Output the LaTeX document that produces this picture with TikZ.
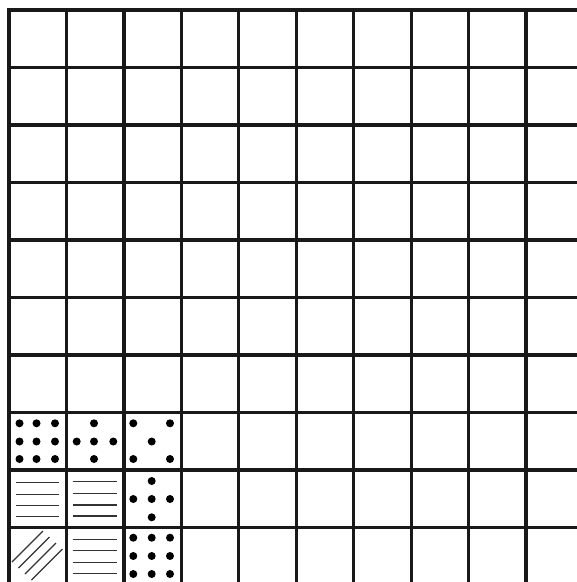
\documentclass[tikz,border=0pt]{standalone}
\begin{document}
\begin{tikzpicture}[x=1pt,y=-1pt,
  gridline/.style={line width=3.2pt,black!90},
  hatch/.style={line width=1.1pt,black!80},
  pip/.style={fill=black}]
\useasboundingbox (0,0) rectangle (577,582);
\fill[white] (0,0) rectangle (577,582);
% grid
\foreach \i in {0,...,9}{
  \draw[gridline] ({9+57.45*\i},8.4) -- ({9+57.45*\i},582);
  \draw[gridline] (7.4,{10+57.5*\i}) -- (577,{10+57.5*\i});
}
% row 7, col 0: nine dots
\foreach \x in {19.5,36.5,55}{\foreach \y in {423.3,441.5,459}{\fill[pip] (\x,\y) circle (4);}}
% row 7, col 1: plus
\foreach \p in {(94,423.3),(76.7,441.5),(94,441.5),(113.3,441.5),(94,459)}{\fill[pip] \p circle (4);}
% row 7, col 2: five
\foreach \p in {(133.3,423.3),(170,423.3),(151.7,441.5),(133.3,459),(170,459)}{\fill[pip] \p circle (4);}
% row 8, col 0: lines
\foreach \y in {482.7,494.3,505.7,516.7}{\draw[hatch] (16,\y) -- (59.3,\y);}
% row 8, col 1: lines
\foreach \y in {481.7,493.3,505,516}{\draw[hatch] (72.7,\y) -- (117.3,\y);}
% row 8, col 2: plus
\foreach \p in {(151.7,481),(133.3,499),(151.7,499),(170,499),(151.7,517.3)}{\fill[pip] \p circle (4);}
% row 9, col 0: diagonal hatch
\foreach \d in {0,1,2,3}{\draw[hatch] ({12+6.5*\d},{562+6*\d}) -- ({43+6.5*\d},{531+6*\d});}
% row 9, col 1: lines
\foreach \y in {539.3,550.7,562.3,573.3}{\draw[hatch] (72.7,\y) -- (117.3,\y);}
% row 9, col 2: nine dots
\foreach \x in {133.3,151.7,170}{\foreach \y in {537.7,556,574}{\fill[pip] (\x,\y) circle (4);}}
\end{tikzpicture}
\end{document}
